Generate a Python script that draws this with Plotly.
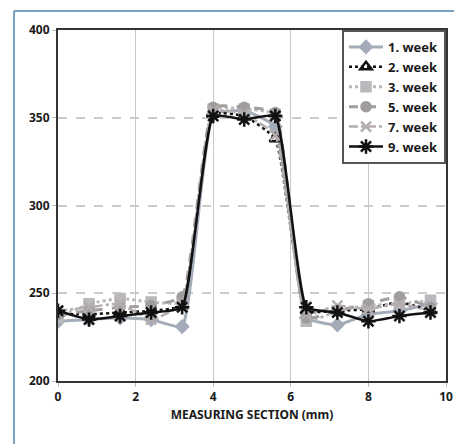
import plotly.graph_objects as go

x_mm = [0, 0.8, 1.6, 2.4, 3.2, 4.0, 4.8, 5.6, 6.4, 7.2, 8.0, 8.8, 9.6]
week1 = [234, 235, 236, 235, 231, 352, 354, 345, 236, 232, 238, 240, 244]
week2 = [238, 238, 239, 240, 243, 352, 351, 338, 240, 240, 241, 245, 240]
week3 = [236, 244, 247, 245, 245, 355, 355, 352, 234, 240, 243, 244, 246]
week5 = [238, 240, 242, 243, 248, 356, 356, 353, 236, 240, 244, 248, 242]
week7 = [240, 242, 244, 235, 244, 354, 352, 340, 238, 243, 241, 244, 240]
week9 = [240, 235, 237, 239, 242, 351, 349, 351, 242, 239, 234, 237, 239]
x_ticks = [0, 2, 4, 6, 8, 10]
y_ticks = [200, 250, 300, 350, 400]

FONT = "Noto Sans"

series = [
    ("1. week", week1, "#a4abb9", "solid", "diamond", 9, 3),
    ("2. week", week2, "#111111", "dot", "triangle-up-open", 10, 2.5),
    ("3. week", week3, "#b9b9bd", "dot", "square", 9, 3),
    ("5. week", week5, "#a19d9d", "dash", "circle", 9, 3),
    ("7. week", week7, "#b5adad", "dashdot", "x-thin-open", 10, 2.5),
    ("9. week", week9, "#111111", "solid", "asterisk-open", 12, 2.5),
]

fig = go.Figure()
for name, ys, col, dash, sym, msize, lw in series:
    fig.add_trace(go.Scatter(
        x=x_mm, y=ys, name=name, mode="lines+markers",
        line=dict(color=col, width=lw, dash=dash, shape="spline", smoothing=0.4),
        marker=dict(symbol=sym, size=msize, color=col,
                    line=dict(color=col, width=2.5)),
    ))

# figure is placed at an 8px body offset in the page
fig.update_layout(
    width=454, height=436,
    margin=dict(l=50, r=16, t=22, b=63, autoexpand=False),
    paper_bgcolor="white", plot_bgcolor="white",
    font=dict(family=FONT, size=12, color="#1a1a1a", weight="bold"),
    showlegend=True,
    legend=dict(
        x=1, y=1, xanchor="right", yanchor="top",
        bgcolor="white", bordercolor="#555555", borderwidth=2,
        font=dict(family=FONT, size=13, color="#1a1a1a", weight="bold"),
        tracegroupgap=0, itemwidth=34,
    ),
    xaxis=dict(
        range=[0, 10], tickvals=x_ticks, ticktext=[str(v) for v in x_ticks],
        showgrid=True, gridcolor="#c8c8c8", gridwidth=1,
        showline=True, linecolor="#333333", linewidth=2, mirror=True,
        ticks="outside", ticklen=4, tickcolor="#bbbbbb",
        zeroline=False, automargin=False,
        title=dict(text="MEASURING SECTION (mm)", standoff=6,
                   font=dict(family=FONT, size=12, weight="bold")),
    ),
    yaxis=dict(
        range=[200, 400], tickvals=y_ticks,
        showgrid=True, gridcolor="#cfcaca", gridwidth=1.5, griddash="dash",
        showline=True, linecolor="#333333", linewidth=2, mirror=True,
        ticks="outside", ticklen=4, tickcolor="#bbbbbb",
        zeroline=False, automargin=False,
    ),
    shapes=[
        dict(type="line", xref="paper", yref="paper",
             x0=-0.1134, x1=-0.1134, y0=1.054, y1=-0.3,
             line=dict(color="#7aa2c2", width=2)),
        dict(type="line", xref="paper", yref="paper",
             x0=-0.1134, x1=1.2, y0=1.054, y1=1.054,
             line=dict(color="#7aa2c2", width=2)),
    ],
)

fig.write_html("out.html")
